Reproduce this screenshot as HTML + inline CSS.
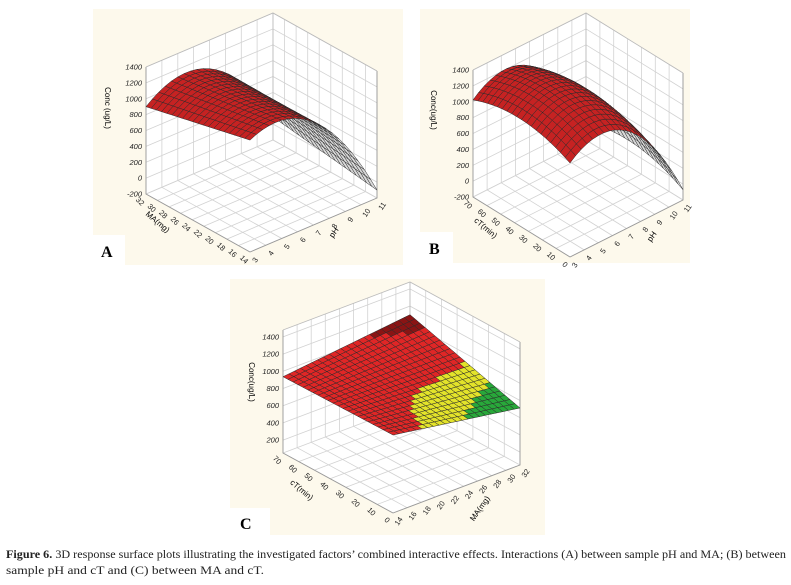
<!DOCTYPE html>
<html><head><meta charset="utf-8">
<style>
html,body{margin:0;padding:0;background:#fff;}
svg{display:block;}
text{font-family:"Liberation Sans",sans-serif;}
.cap{font-family:"Liberation Serif",serif;font-size:11.5px;fill:#222;}
</style></head>
<body>
<svg id="fig" width="791" height="585" viewBox="0 0 791 585">
<rect x="93" y="9" width="310" height="256" fill="#fdf9ec"/>
<rect x="420" y="9" width="270" height="254" fill="#fdf9ec"/>
<rect x="230" y="279" width="315" height="256" fill="#fdf9ec"/>
<g id="pa"></g>
<g id="pb"></g>
<g id="pc"></g>
<rect x="93" y="235" width="32" height="30" fill="#fff"/>
<text x="101" y="257" font-weight="bold" font-size="16" style="font-family:'Liberation Serif',serif">A</text>
<rect x="420" y="232" width="33" height="31" fill="#fff"/>
<text x="429" y="254" font-weight="bold" font-size="16" style="font-family:'Liberation Serif',serif">B</text>
<rect x="230" y="508" width="40" height="27" fill="#fff"/>
<text x="240" y="529" font-weight="bold" font-size="16" style="font-family:'Liberation Serif',serif">C</text>
<text class="cap" x="6" y="558" textLength="780" lengthAdjust="spacingAndGlyphs"><tspan font-weight="bold">Figure 6.</tspan> 3D response surface plots illustrating the investigated factors’ combined interactive effects. Interactions (A) between sample pH and MA; (B) between</text>
<text class="cap" x="6" y="574" textLength="258" lengthAdjust="spacingAndGlyphs">sample pH and cT and (C) between MA and cT.</text>
</svg>
<script>
// ---- data ----
const zTicksAB = [-200,0,200,400,600,800,1000,1200,1400];
const zTicksC = [200,400,600,800,1000,1200,1400];
const pHTicks = [3,4,5,6,7,8,9,10,11];
const maTicksA = [14,16,18,20,22,24,26,28,30,32];
const ctTicksB = [0,10,20,30,40,50,60,70];
const maTicksC = [14,16,18,20,22,24,26,28,30,32];
const ctTicksC = [0,10,20,30,40,50,60,70];
// response surface coefficients: z = b0 + bu*u + bv*v + buu*u^2 + bvv*v^2 + buv*u*v  (u,v normalised 0..1)
const coefA = [1210, 863, -310, -2173, 0, 500];
const coefB = [984, 1239, 638, -2293, -600, 52];
const coefC = [957, -244, -20, 0, 0, 407];
const levelsC = [815, 900, 1040];

const NS="http://www.w3.org/2000/svg";
function mk(parent,tag,attrs){const e=document.createElementNS(NS,tag);for(const k in attrs)e.setAttribute(k,attrs[k]);parent.appendChild(e);return e;}
function evalC(c,u,v){return c[0]+c[1]*u+c[2]*v+c[3]*u*u+c[4]*v*v+c[5]*u*v;}

function panel(g,cfg){
  const P=(u,v,w)=>[cfg.F[0]+u*cfg.X[0]+v*cfg.Y[0]+w*cfg.Z[0], cfg.F[1]+u*cfg.X[1]+v*cfg.Y[1]+w*cfg.Z[1]];
  const wn=z=>(z-cfg.zmin)/(cfg.zmax-cfg.zmin);
  const pts=a=>a.map(p=>p.map(n=>n.toFixed(1)).join(',')).join(' ');
  const gc='#d2d2d2';
  const uT=cfg.uTicks.map(t=>(t-cfg.uTicks[0])/(cfg.uTicks[cfg.uTicks.length-1]-cfg.uTicks[0]));
  const vT=cfg.vTicks.map(t=>(t-cfg.vTicks[0])/(cfg.vTicks[cfg.vTicks.length-1]-cfg.vTicks[0]));
  const zT=cfg.zTicks.map(wn);
  const wall=mk(g,'g',{});
  
  
  mk(wall,'polygon',{points:pts([P(0,0,0),P(1,0,0),P(1,1,0),P(0,1,0)]),fill:'#fff',stroke:'none'});
  mk(wall,'polygon',{points:pts([P(0,1,0),P(1,1,0),P(1,1,1),P(0,1,1)]),fill:'#fff',stroke:'none'});
  mk(wall,'polygon',{points:pts([P(1,0,0),P(1,1,0),P(1,1,1),P(1,0,1)]),fill:'#fff',stroke:'none'});
  uT.forEach(u=>{mk(wall,'polyline',{points:pts([P(u,0,0),P(u,1,0),P(u,1,1)]),fill:'none',stroke:gc,'stroke-width':0.8});});
  vT.forEach(v=>{mk(wall,'polyline',{points:pts([P(0,v,0),P(1,v,0),P(1,v,1)]),fill:'none',stroke:gc,'stroke-width':0.8});});
  zT.forEach(w=>{if(w<0||w>1)return;mk(wall,'polyline',{points:pts([P(0,1,w),P(1,1,w),P(1,0,w)]),fill:'none',stroke:gc,'stroke-width':0.8});});
  mk(wall,'polyline',{points:pts([P(0,0,0),P(1,0,0),P(1,0,1)]),fill:'none',stroke:'#999','stroke-width':0.9});
  mk(wall,'polyline',{points:pts([P(0,0,0),P(0,1,0),P(0,1,1)]),fill:'none',stroke:'#999','stroke-width':0.9});
  mk(wall,'polyline',{points:pts([P(0,1,1),P(1,1,1),P(1,0,1)]),fill:'none',stroke:'#bbb','stroke-width':0.8});
  mk(wall,'line',{x1:P(1,1,0)[0],y1:P(1,1,0)[1],x2:P(1,1,1)[0],y2:P(1,1,1)[1],stroke:'#bbb','stroke-width':0.8});
  const N=cfg.n, cells=[];
  for(let i=0;i<N;i++)for(let j=0;j<N;j++){
    const c=[[i,j],[i+1,j],[i+1,j+1],[i,j+1]].map(([a,b])=>{const u=a/N,v=b/N;return {u,v,z:cfg.f(u,v)};});
    cells.push({i,j,c,d:(i+j)});
  }
  cells.sort((a,b)=>b.d-a.d);
  const sg=mk(g,'g',{});
  
  
  cells.forEach(cell=>{
    const p=cell.c.map(q=>P(q.u,q.v,wn(q.z)));
    const cross=(p[1][0]-p[0][0])*(p[3][1]-p[0][1])-(p[1][1]-p[0][1])*(p[3][0]-p[0][0]);
    const zm=cell.c.reduce((s,q)=>s+q.z,0)/4;
    const um=(cell.i+0.5)/N, vm=(cell.j+0.5)/N;
    const fill=cfg.color(zm,um,vm,cross);
    const poly=mk(sg,'polygon',{points:pts(p),fill:fill,stroke:'#2a2a2a','stroke-width':0.5});
    
    
  });
  const tg=mk(g,'g',{'font-size':7.5,fill:'#222'});
  
  
  cfg.zTicks.forEach((t,k)=>{const p=P(0,1,zT[k]);const e=mk(tg,'text',{x:p[0]-4,y:p[1]+2.5,'text-anchor':'end','font-style':'italic'});e.textContent=t;
    });
  cfg.vTicks.forEach((t,k)=>{const p=P(-0.06,vT[k],0);const e=mk(tg,'text',{x:p[0],y:p[1]+6,'text-anchor':'middle',transform:`rotate(45 ${p[0].toFixed(1)} ${(p[1]+6).toFixed(1)})`});e.textContent=t;
    });
  cfg.uTicks.forEach((t,k)=>{const p=P(uT[k],-0.06,0);const e=mk(tg,'text',{x:p[0]+1,y:p[1]+6,'text-anchor':'middle',transform:`rotate(-55 ${(p[0]+1).toFixed(1)} ${(p[1]+6).toFixed(1)})`});e.textContent=t;
    });
  const zt=cfg.ztitle, vt=cfg.vtitle, ut=cfg.utitle;
  let e=mk(g,'text',{x:zt[0],y:zt[1],'font-size':8,'text-anchor':'middle',transform:`rotate(90 ${zt[0]} ${zt[1]})`});e.textContent=zt[2];
  
  e=mk(g,'text',{x:vt[0],y:vt[1],'font-size':8,'text-anchor':'middle',transform:`rotate(40 ${vt[0]} ${vt[1]})`});e.textContent=vt[2];
  
  e=mk(g,'text',{x:ut[0],y:ut[1],'font-size':8,'text-anchor':'middle',transform:`rotate(-55 ${ut[0]} ${ut[1]})`});e.textContent=ut[2];
  
}
const redFront='#c62222', grayBack='#d8d8d8';
panel(document.getElementById('pa'),{F:[250,252],X:[127,-54],Y:[-104,-58],Z:[0,-127],zmin:-200,zmax:1400,n:20,
  uTicks:pHTicks,vTicks:maTicksA,zTicks:zTicksAB,
  f:(u,v)=>evalC(coefA,u,v),
  color:(z,u,v,cr)=>cr>0?grayBack:redFront,
  ztitle:[105,108,'Conc (ug/L)'],vtitle:[156,224,'MA(mg)'],utitle:[336,234,'pH']});
panel(document.getElementById('pb'),{F:[570,257],X:[113,-57],Y:[-97,-60],Z:[0,-127],zmin:-200,zmax:1400,n:20,
  uTicks:pHTicks,vTicks:ctTicksB,zTicks:zTicksAB,
  f:(u,v)=>evalC(coefB,u,v),
  color:(z,u,v,cr)=>cr>0?grayBack:redFront,
  ztitle:[431,110,'Conc(ug/L)'],vtitle:[484,230,'cT(min)'],utitle:[654,238,'pH']});
panel(document.getElementById('pc'),{F:[393,513],X:[127,-48],Y:[-110,-60],Z:[0,-123],zmin:50,zmax:1480,n:22,
  uTicks:maTicksC,vTicks:ctTicksC,zTicks:zTicksC,
  f:(u,v)=>evalC(coefC,u,v),
  color:(z)=>{if(z<levelsC[0])return '#28a83a';if(z<levelsC[1])return '#e3e32a';if(z>levelsC[2])return '#8a1414';return '#e02626';},
  ztitle:[249,382,'Conc(ug/L)'],vtitle:[300,492,'cT(min)'],utitle:[482,510,'MA(mg)']});
</script>
</body></html>
